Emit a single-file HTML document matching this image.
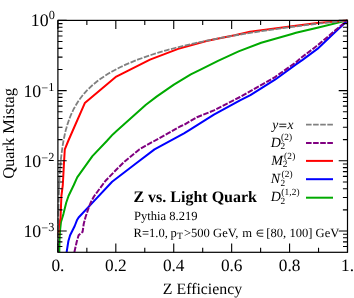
<!DOCTYPE html><html><head><meta charset="utf-8"><style>html,body{margin:0;padding:0;background:#fff}svg{display:block;opacity:0.999;will-change:transform}text{text-rendering:geometricPrecision;font-family:"Liberation Serif",serif;fill:#000}</style></head><body>
<svg width="354" height="298" viewBox="0 0 354 298">
<rect width="354" height="298" fill="#fff"/>
<defs><clipPath id="c"><rect x="55.9" y="17.4" width="294.6" height="234.9"/></clipPath></defs>
<g clip-path="url(#c)" fill="none" stroke-linejoin="round">
<polyline points="59.3,252.3 59.5,240.0 60.0,231.0 61.0,222.0 63.4,214.1 66.2,202.8 68.5,196.0 73.8,185.0 77.2,177.3 92.4,156.1 106.8,141.0 112.8,134.4 116.0,131.6 145.9,104.8 156.9,96.4 173.9,84.6 190.8,74.4 200.0,69.8 218.0,60.8 238.6,51.4 261.2,42.8 292.0,34.0 296.0,32.8 317.4,27.7 347.5,20.4" stroke="#00aa00" stroke-width="2"/>
<polyline points="66.6,252.3 68.4,241.0 70.1,235.3 74.7,226.0 76.9,220.3 78.6,217.5 93.5,201.6 112.1,181.8 135.9,163.5 154.5,149.4 184.0,133.3 189.3,130.1 213.9,114.7 240.0,100.3 250.4,95.1 275.0,79.7 296.0,64.4 302.2,60.1 317.4,48.9 334.4,32.8 346.2,21.8 347.5,20.4" stroke="#0000ff" stroke-width="2"/>
<polyline points="58.3,237.0 58.3,234.0 59.5,222.0 60.5,218.6 61.4,196.0 62.8,185.0 64.0,163.0 64.8,149.3 68.2,141.0 84.8,103.1 116.3,76.6 150.0,59.6 178.2,48.9 206.5,41.0 216.0,38.9 234.7,35.3 250.0,31.8 290.0,26.4 317.4,23.1 347.5,20.4" stroke="#ff0000" stroke-width="2"/>
<polyline points="74.4,252.3 74.6,251.1 76.9,241.0 78.6,235.3 82.6,231.9 83.7,224.0 85.4,217.5 88.8,207.3 90.8,202.4 93.9,196.5 96.5,193.0 105.3,181.0 115.5,170.5 124.7,161.4 139.3,149.4 180.0,126.5 184.0,124.8 196.9,117.2 213.9,110.4 240.0,97.0 275.0,77.1 296.0,62.2 300.5,58.2 317.4,45.5 334.4,31.1 346.2,21.4 347.5,20.4" stroke="#800080" stroke-width="2" stroke-dasharray="5.6,1.5"/>
<polyline points="58.0,252.1 58.1,249.8 58.1,247.4 58.1,245.1 58.1,242.7 58.1,240.4 58.1,238.1 58.1,235.7 58.2,233.4 58.2,231.0 58.2,228.7 58.2,226.3 58.3,224.0 58.3,221.6 58.3,219.3 58.4,216.9 58.4,214.6 58.4,212.2 58.5,209.9 58.5,207.6 58.6,205.2 58.6,202.9 58.7,200.5 58.8,198.2 58.8,195.8 58.9,193.5 59.0,191.1 59.1,188.8 59.1,186.4 59.2,184.1 59.4,181.7 59.5,179.4 59.6,177.0 59.7,174.7 59.9,172.4 60.0,170.0 60.2,167.7 60.4,165.3 60.6,163.0 60.8,160.6 61.0,158.3 61.3,155.9 61.6,153.6 61.9,151.2 62.2,148.9 62.5,146.5 62.9,144.2 63.3,141.9 63.7,139.5 64.2,137.2 64.7,134.8 65.2,132.5 65.8,130.1 66.5,127.8 67.1,125.4 67.9,123.1 68.7,120.7 69.5,118.4 70.5,116.0 71.5,113.7 72.6,111.4 73.7,109.0 75.0,106.7 76.4,104.3 77.8,102.0 79.4,99.6 81.2,97.3 83.0,94.9 85.0,92.6 87.2,90.2 89.6,87.9 92.1,85.5 94.8,83.2 97.8,80.8 101.0,78.5 104.4,76.2 108.1,73.8 112.1,71.5 116.5,69.1 121.2,66.8 126.2,64.4 131.7,62.1 137.6,59.7 144.0,57.4 150.9,55.0 158.3,52.7 166.3,50.3 175.0,48.0 184.4,45.7 194.5,43.3 205.4,41.0 217.2,38.6 230.0,36.3 243.8,33.9 258.6,31.6 274.7,29.2 292.0,26.9 310.8,24.5 331.0,22.2 347.5,20.4" stroke="#808080" stroke-width="1.8" stroke-dasharray="5.6,1.5"/>
</g>
<path d="M57.90 252.3 v-8.7 M57.90 20.4 v8.7 M86.86 252.3 v-4.5 M86.86 20.4 v4.5 M115.82 252.3 v-8.7 M115.82 20.4 v8.7 M144.78 252.3 v-4.5 M144.78 20.4 v4.5 M173.74 252.3 v-8.7 M173.74 20.4 v8.7 M202.70 252.3 v-4.5 M202.70 20.4 v4.5 M231.66 252.3 v-8.7 M231.66 20.4 v8.7 M260.62 252.3 v-4.5 M260.62 20.4 v4.5 M289.58 252.3 v-8.7 M289.58 20.4 v8.7 M318.54 252.3 v-4.5 M318.54 20.4 v4.5 M347.50 252.3 v-8.7 M347.50 20.4 v8.7 M57.9 20.40 h8.8 M347.5 20.40 h-8.8 M57.9 90.60 h8.8 M347.5 90.60 h-8.8 M57.9 69.47 h4.6 M347.5 69.47 h-4.6 M57.9 57.11 h4.6 M347.5 57.11 h-4.6 M57.9 48.34 h4.6 M347.5 48.34 h-4.6 M57.9 41.53 h4.6 M347.5 41.53 h-4.6 M57.9 35.97 h4.6 M347.5 35.97 h-4.6 M57.9 31.27 h4.6 M347.5 31.27 h-4.6 M57.9 27.20 h4.6 M347.5 27.20 h-4.6 M57.9 23.61 h4.6 M347.5 23.61 h-4.6 M57.9 160.80 h8.8 M347.5 160.80 h-8.8 M57.9 139.67 h4.6 M347.5 139.67 h-4.6 M57.9 127.31 h4.6 M347.5 127.31 h-4.6 M57.9 118.54 h4.6 M347.5 118.54 h-4.6 M57.9 111.73 h4.6 M347.5 111.73 h-4.6 M57.9 106.17 h4.6 M347.5 106.17 h-4.6 M57.9 101.47 h4.6 M347.5 101.47 h-4.6 M57.9 97.40 h4.6 M347.5 97.40 h-4.6 M57.9 93.81 h4.6 M347.5 93.81 h-4.6 M57.9 231.00 h8.8 M347.5 231.00 h-8.8 M57.9 209.87 h4.6 M347.5 209.87 h-4.6 M57.9 197.51 h4.6 M347.5 197.51 h-4.6 M57.9 188.74 h4.6 M347.5 188.74 h-4.6 M57.9 181.93 h4.6 M347.5 181.93 h-4.6 M57.9 176.37 h4.6 M347.5 176.37 h-4.6 M57.9 171.67 h4.6 M347.5 171.67 h-4.6 M57.9 167.60 h4.6 M347.5 167.60 h-4.6 M57.9 164.01 h4.6 M347.5 164.01 h-4.6 M57.9 246.57 h4.5 M347.5 246.57 h-4.5 M57.9 241.87 h4.5 M347.5 241.87 h-4.5 M57.9 237.80 h4.5 M347.5 237.80 h-4.5 M57.9 234.21 h4.5 M347.5 234.21 h-4.5" stroke="#000" stroke-width="1.1" fill="none"/>
<rect x="57.9" y="20.4" width="289.6" height="231.9" fill="none" stroke="#000" stroke-width="1.2"/>
<text x="57.9" y="271.3" font-size="17.3" text-anchor="middle">0.</text>
<text x="115.8" y="271.3" font-size="17.3" text-anchor="middle">0.2</text>
<text x="173.7" y="271.3" font-size="17.3" text-anchor="middle">0.4</text>
<text x="231.7" y="271.3" font-size="17.3" text-anchor="middle">0.6</text>
<text x="289.6" y="271.3" font-size="17.3" text-anchor="middle">0.8</text>
<text x="347.5" y="271.3" font-size="17.3" text-anchor="middle">1.</text>
<text x="54.8" y="26.3" font-size="17.8" text-anchor="end">10<tspan font-size="12.3" dy="-7.0">0</tspan></text>
<text x="54.3" y="96.9" font-size="17.8" text-anchor="end">10<tspan font-size="12.3" dy="-5.3">−</tspan><tspan font-size="12.3" dy="-0.9">1</tspan></text>
<text x="54.3" y="167.1" font-size="17.8" text-anchor="end">10<tspan font-size="12.3" dy="-5.3">−</tspan><tspan font-size="12.3" dy="-0.9">2</tspan></text>
<text x="54.3" y="237.3" font-size="17.8" text-anchor="end">10<tspan font-size="12.3" dy="-5.3">−</tspan><tspan font-size="12.3" dy="-0.9">3</tspan></text>
<text x="202.5" y="293.6" font-size="15.85" text-anchor="middle">Z Efficiency</text>
<text transform="translate(14.4,133.4) rotate(-90)" font-size="16.45" text-anchor="middle">Quark Mistag</text>
<text x="133.4" y="201.6" font-size="16" font-weight="bold">Z vs. Light Quark</text>
<text x="134.1" y="219.5" font-size="12.55">Pythia 8.219</text>
<text x="133.5" y="236.7" font-size="12.6">R=1.0,</text>
<text x="170.6" y="236.7" font-size="12.6">p</text>
<text x="177.0" y="239" font-size="9.6">T</text>
<text x="183.9" y="236.7" font-size="12.6">&gt;500 GeV,</text>
<text x="242.2" y="236.7" font-size="12.6">m</text>
<path d="M263.3 230.1 H260 A3.1 3.1 0 0 0 260 236.3 H263.3 M257 233.2 H263.3" fill="none" stroke="#000" stroke-width="0.85"/>
<text x="266.3" y="236.7" font-size="12.6">[80, 100] GeV</text>
<line x1="306" x2="333" y1="124.7" y2="124.7" stroke="#808080" stroke-width="1.8" stroke-dasharray="5.6,1.5"/>
<line x1="306" x2="333" y1="142.9" y2="142.9" stroke="#800080" stroke-width="2" stroke-dasharray="5.6,1.5"/>
<line x1="306" x2="333" y1="160.9" y2="160.9" stroke="#ff0000" stroke-width="2" />
<line x1="306" x2="333" y1="179.2" y2="179.2" stroke="#0000ff" stroke-width="2" />
<line x1="306" x2="333" y1="197.7" y2="197.7" stroke="#00aa00" stroke-width="2" />
<text x="272.3" y="128.6" font-size="13.5" font-style="italic">y</text>
<path d="M279.3 124.2 H286.3 M279.3 126.7 H286.3" stroke="#000" stroke-width="0.9" fill="none"/>
<text x="287.4" y="128.6" font-size="13.5" font-style="italic">x</text>
<text x="270.8" y="146.5" font-size="14" font-style="italic">D</text>
<text x="280.4" y="149.0" font-size="9.3">2</text>
<text x="281.0" y="140.3" font-size="9.3" letter-spacing="0.15">(2)</text>
<text x="271.2" y="164.8" font-size="14" font-style="italic">M</text>
<text x="282.7" y="167.3" font-size="9.3">2</text>
<text x="284.1" y="158.6" font-size="9.3" letter-spacing="0.15">(2)</text>
<text x="270.7" y="183.1" font-size="14" font-style="italic">N</text>
<text x="280.6" y="185.6" font-size="9.3">2</text>
<text x="281.4" y="176.9" font-size="9.3" letter-spacing="0.15">(2)</text>
<text x="270.8" y="201.3" font-size="14" font-style="italic">D</text>
<text x="280.5" y="203.8" font-size="9.3">2</text>
<text x="281.2" y="195.1" font-size="9.3" letter-spacing="0.15">(1,2)</text>
</svg></body></html>
